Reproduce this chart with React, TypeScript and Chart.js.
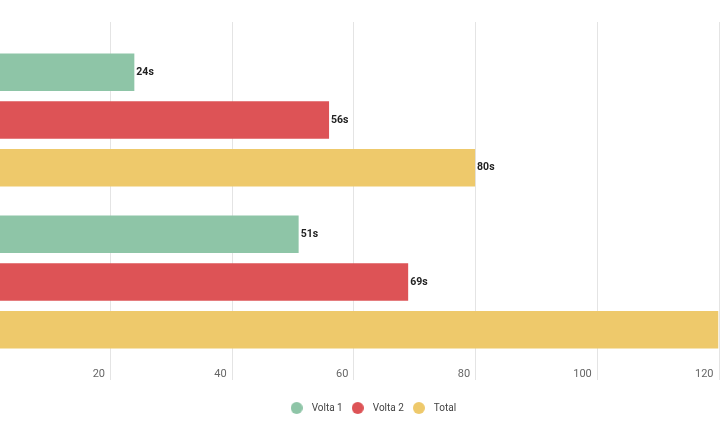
import React, { useEffect, useRef } from "react";
import { Chart, registerables } from "chart.js";

Chart.register(...registerables);

// Lap times per run, in seconds
const categories = ["Corrida 1", "Corrida 2"];
const seriesNames = ["Volta 1", "Volta 2", "Total"];
const volta1 = [24, 51];
const volta2 = [56, 69];
const total = [80, 120];
const xTicks = [20, 40, 60, 80, 100, 120];
const seriesColors = ["#8ec5a7", "#dd5356", "#eec96b"];

const FONT = "Roboto, 'Noto Sans', sans-serif";

// Round legend marker drawn onto a small offscreen canvas
function makeDot(color: string, size = 12) {
  const c = document.createElement("canvas");
  c.width = size;
  c.height = size;
  const g = c.getContext("2d")!;
  g.fillStyle = color;
  g.beginPath();
  g.arc(size / 2, size / 2, size / 2, 0, Math.PI * 2);
  g.fill();
  return c;
}

// Vertical grid lines that run a little past the top and bottom of the plot area
const extendedGrid = {
  id: "extendedGrid",
  beforeDatasetsDraw(chart: any) {
    const { ctx, chartArea, scales } = chart;
    const xs = scales.x;
    ctx.save();
    ctx.strokeStyle = "#e4e4e4";
    ctx.lineWidth = 1;
    xs.ticks.forEach((t: any) => {
      const px = Math.round(xs.getPixelForValue(t.value)) + 0.5;
      ctx.beginPath();
      ctx.moveTo(px, chartArea.top - 17);
      ctx.lineTo(px, chartArea.bottom + 17);
      ctx.stroke();
    });
    ctx.restore();
  },
};

// "24s"-style value labels at the end of each bar
const valueLabels = {
  id: "valueLabels",
  afterDatasetsDraw(chart: any) {
    const { ctx } = chart;
    ctx.save();
    ctx.font = `bold 10.5px ${FONT}`;
    ctx.fillStyle = "#222";
    ctx.textAlign = "left";
    ctx.textBaseline = "middle";
    chart.data.datasets.forEach((ds: any, di: number) => {
      const meta = chart.getDatasetMeta(di);
      meta.data.forEach((bar: any, i: number) => {
        ctx.fillText(`${ds.data[i]}s`, bar.x + 2, bar.y);
      });
    });
    ctx.restore();
  },
};

export default function App() {
  const canvasRef = useRef<HTMLCanvasElement | null>(null);

  useEffect(() => {
    if (!canvasRef.current) return;
    const series = [volta1, volta2, total];
    const dots = seriesColors.map((c) => makeDot(c));
    const chart = new Chart(canvasRef.current, {
      type: "bar",
      data: {
        labels: categories,
        datasets: seriesNames.map((name, i) => ({
          label: name,
          data: series[i],
          backgroundColor: seriesColors[i],
          borderWidth: 0,
          categoryPercentage: 0.883,
          barPercentage: 0.785,
        })),
      },
      options: {
        indexAxis: "y",
        responsive: true,
        maintainAspectRatio: false,
        animation: false,
        layout: { padding: { top: 39, left: 8.3, right: 5.5, bottom: 9 } },
        scales: {
          x: {
            type: "linear",
            min: 0,
            max: 120,
            grid: { display: false, drawTicks: false },
            border: { display: false },
            afterBuildTicks: (s: any) => {
              s.ticks = xTicks.map((v) => ({ value: v }));
            },
            afterFit: (s: any) => {
              s.height = 35;
            },
            ticks: {
              align: "end",
              labelOffset: -5,
              padding: 5,
              color: "#666",
              font: { family: FONT, size: 11 },
            },
          },
          y: {
            position: "right",
            grid: { display: false },
            border: { display: false },
            ticks: { display: false },
            afterFit: (s: any) => {
              s.width = 36;
            },
          },
        },
        plugins: {
          legend: {
            position: "bottom",
            labels: {
              usePointStyle: true,
              pointStyleWidth: 20,
              boxHeight: 10,
              padding: 5,
              color: "#444",
              font: { family: FONT, size: 10 },
              generateLabels: (ch: any) => {
                const items = Chart.defaults.plugins.legend.labels.generateLabels(ch);
                items.forEach((it: any, i: number) => {
                  it.pointStyle = dots[i];
                });
                return items;
              },
            },
          },
          tooltip: { enabled: false },
        },
      },
      plugins: [extendedGrid, valueLabels],
    });
    return () => chart.destroy();
  }, []);

  return (
    <div
      style={{
        position: "fixed",
        left: 0,
        top: 0,
        width: 720,
        height: 432,
        overflow: "hidden",
        background: "#fff",
      }}
    >
      <div style={{ position: "absolute", left: -20, top: 0, width: 780, height: 432 }}>
        <canvas ref={canvasRef} />
      </div>
    </div>
  );
}
